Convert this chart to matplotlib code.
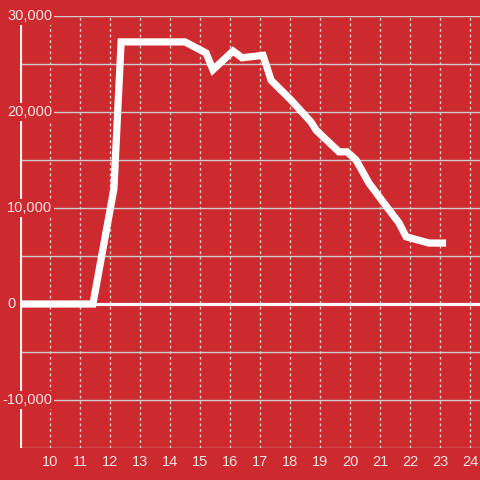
import matplotlib
matplotlib.use("Agg")
import matplotlib.pyplot as plt

# hour of day vs value
hours = [9.0, 11.43, 12.13, 12.37, 14.5, 15.2, 15.43, 16.1, 16.4, 17.1, 17.37,
         18.03, 18.7, 18.87, 19.63, 19.9, 20.2, 20.63, 21.13, 21.63, 21.87,
         22.63, 23.2]
values = [0, 0, 12000, 27300, 27300, 26150, 24400, 26350, 25650, 25900, 23300,
          21250, 18950, 18100, 15850, 15850, 15000, 12600, 10500, 8450, 7000,
          6350, 6350]

x_ticks = list(range(10, 25))
y_ticks = [-10000, 0, 10000, 20000, 30000]
y_grid = list(range(-15000, 30001, 5000))

bg = "#cc2a2f"
txt = "#f4e4e4"
grid = "#cfcfcf"

plt.rcParams['font.family'] = ['Liberation Sans', 'DejaVu Sans']

fig = plt.figure(figsize=(4.8, 4.8), dpi=100, facecolor=bg)
ax = fig.add_axes([20/480, 32/480, 460/480, 432/480], facecolor=bg)

ax.set_xlim(9, 24.33)
ax.set_ylim(-15000, 30000)

# grid
for v in x_ticks:
    ax.axvline(v, color=grid, lw=1, ls=(0, (2, 2)), zorder=1)
for v in y_grid:
    ax.axhline(v, color=grid, lw=1, zorder=1)
ax.axhline(0, color="white", lw=2.3, zorder=2)
ax.axvline(9, color="#f2f2f2", lw=2.3, zorder=3)

for s in ax.spines.values():
    s.set_visible(False)

ax.set_xticks(x_ticks)
ax.set_xticklabels([str(v) for v in x_ticks])
ax.set_yticks([])
ax.tick_params(axis="x", length=0, pad=5, labelsize=10.5, labelcolor=txt)

# y labels start near the left edge, digits lined up, minus hanging out
for v in y_ticks:
    ax.annotate("{:,}".format(v), xy=(0, v), xycoords=("axes fraction", "data"),
                xytext=(-18 if v < 0 else -13, 0), textcoords="offset pixels",
                ha="left", va="center", fontsize=10.5, color=txt, zorder=4,
                annotation_clip=False,
                bbox=dict(facecolor=bg, edgecolor="none", pad=1.5))

ax.plot(hours, values, color="white", lw=5.2, solid_joinstyle="miter",
        solid_capstyle="butt", zorder=6)

fig.savefig("out.png", dpi=100, facecolor=bg)
